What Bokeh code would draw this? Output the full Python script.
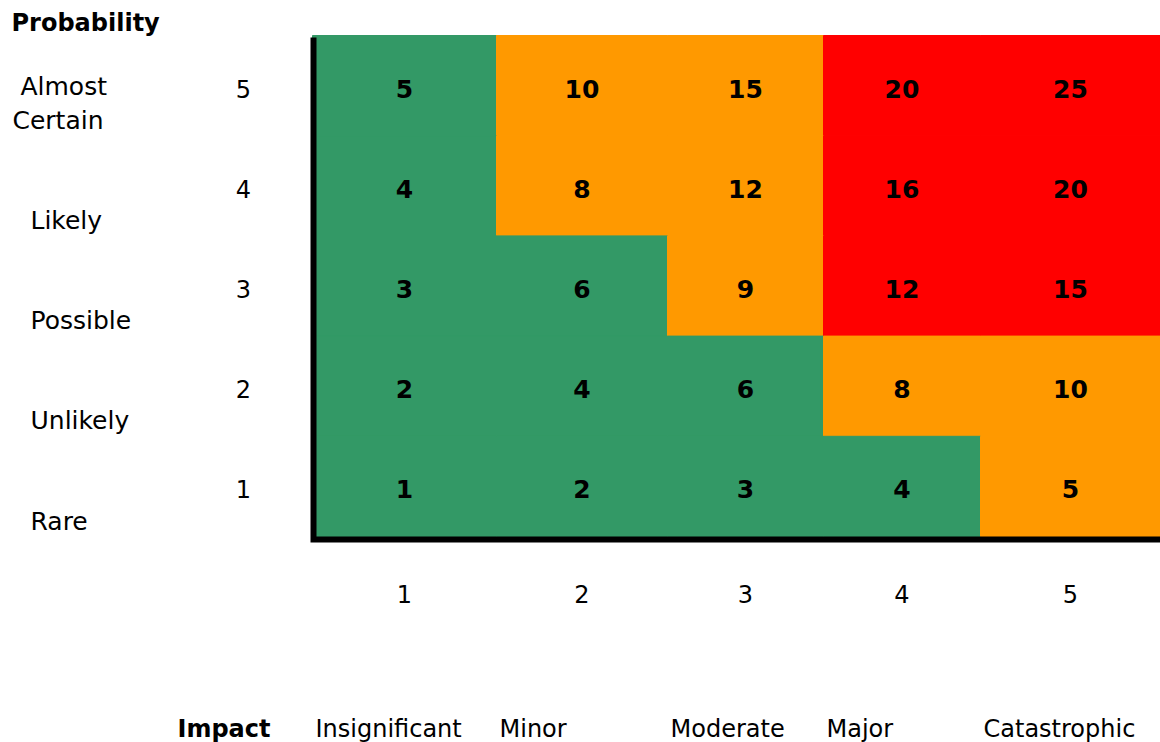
from bokeh.plotting import figure
from bokeh.models import Range1d, ColumnDataSource
from bokeh.embed import file_html
from bokeh.resources import INLINE
from bokeh.core.properties import value

# ---------------- data ----------------
probability_levels = [5, 4, 3, 2, 1]
probability_labels = ["\u00a0Almost\nCertain", "Likely", "Possible", "Unlikely", "Rare"]
impact_levels = [1, 2, 3, 4, 5]
impact_labels = ["Insignificant", "Minor", "Moderate", "Major", "Catastrophic"]

scores_p5 = [5, 10, 15, 20, 25]
scores_p4 = [4, 8, 12, 16, 20]
scores_p3 = [3, 6, 9, 12, 15]
scores_p2 = [2, 4, 6, 8, 10]
scores_p1 = [1, 2, 3, 4, 5]

rating_p5 = ["Low", "Medium", "Medium", "High", "High"]
rating_p4 = ["Low", "Medium", "Medium", "High", "High"]
rating_p3 = ["Low", "Low", "Medium", "High", "High"]
rating_p2 = ["Low", "Low", "Low", "Medium", "Medium"]
rating_p1 = ["Low", "Low", "Low", "Low", "Medium"]

scores = [scores_p5, scores_p4, scores_p3, scores_p2, scores_p1]
ratings = [rating_p5, rating_p4, rating_p3, rating_p2, rating_p1]

# ---------------- layout / style ----------------
rating_colors = {"Low": "#339966", "Medium": "#FF9900", "High": "#FF0000"}
col_edges = [312, 496, 667, 823, 980, 1160]   # horizontal pixel layout of the impact columns
W, H = 1160, 742
UNIT = 100.2                                   # px per probability step
MATRIX_TOP_PX = 35                             # from top of canvas
FONT = value("DejaVu Sans")
FS = "24px"

y_end = 5.5 + MATRIX_TOP_PX / UNIT
y_start = y_end - H / UNIT

p = figure(width=W, height=H, x_range=Range1d(0, W), y_range=Range1d(y_start, y_end),
           output_backend="svg", toolbar_location=None, min_border=0)
p.axis.visible = False
p.grid.visible = False
p.outline_line_color = None
p.background_fill_color = "white"
p.border_fill_color = "white"

# cells
left, right, bottom, top, colors, xs, ys, txt = [], [], [], [], [], [], [], []
for prob, row_scores, row_ratings in zip(probability_levels, scores, ratings):
    for j, imp in enumerate(impact_levels):
        left.append(col_edges[j]); right.append(col_edges[j + 1])
        bottom.append(prob - 0.5); top.append(prob + 0.5)
        colors.append(rating_colors[row_ratings[j]])
        xs.append((col_edges[j] + col_edges[j + 1]) / 2); ys.append(prob)
        txt.append(str(row_scores[j]))
src = ColumnDataSource(dict(left=left, right=right, bottom=bottom, top=top, color=colors,
                            x=xs, y=ys, text=txt))
p.quad(left="left", right="right", bottom="bottom", top="top", fill_color="color",
       line_color="color", line_width=1, source=src)
p.text(x="x", y="y", text="text", source=src, text_font=FONT, text_font_size="25px",
       text_font_style="bold", text_align="center", text_baseline="middle",
       text_color="black", y_offset=3)

# axes lines (L shape)
lo = 0.5 - 3 / UNIT
p.line(x=[col_edges[0] + 1, col_edges[0] + 1, col_edges[-1]],
       y=[5.5 - 2 / UNIT, lo, lo], line_color="black", line_width=6, line_join="miter")

# left labels
p.text(x=[243] * 5, y=probability_levels, text=[str(v) for v in probability_levels],
       text_font=FONT, text_font_size=FS, text_align="center", text_baseline="middle",
       text_color="black", y_offset=3)
lab_x = [12, 30, 30, 30, 30]
p.text(x=lab_x, y=[v - 0.5 for v in probability_levels], text=probability_labels,
       text_font=FONT, text_font_size="25px", text_align="left", text_baseline="bottom",
       text_color="black", text_line_height=1.16, y_offset=-1)
p.text(x=[11], y=[5.5], text=["Probability"], text_font=FONT, text_font_size="24px",
       text_font_style="bold", text_align="left", text_baseline="middle",
       text_color="black", y_offset=-13)

# bottom labels
centers = [(col_edges[j] + col_edges[j + 1]) / 2 for j in range(5)]
p.text(x=centers, y=[0.5] * 5, text=[str(v) for v in impact_levels], text_font=FONT,
       text_font_size=FS, text_align="center", text_baseline="middle",
       text_color="black", y_offset=57)
p.text(x=[e + 3 for e in col_edges[:5]], y=[0.5] * 5, text=impact_labels, text_font=FONT,
       text_font_size=FS, text_align="left", text_baseline="middle",
       text_color="black", y_offset=192)
p.text(x=[270], y=[0.5], text=["Impact"], text_font=FONT, text_font_size=FS,
       text_font_style="bold", text_align="right", text_baseline="middle",
       text_color="black", y_offset=192)

open("out.html", "w").write(file_html(p, INLINE))
